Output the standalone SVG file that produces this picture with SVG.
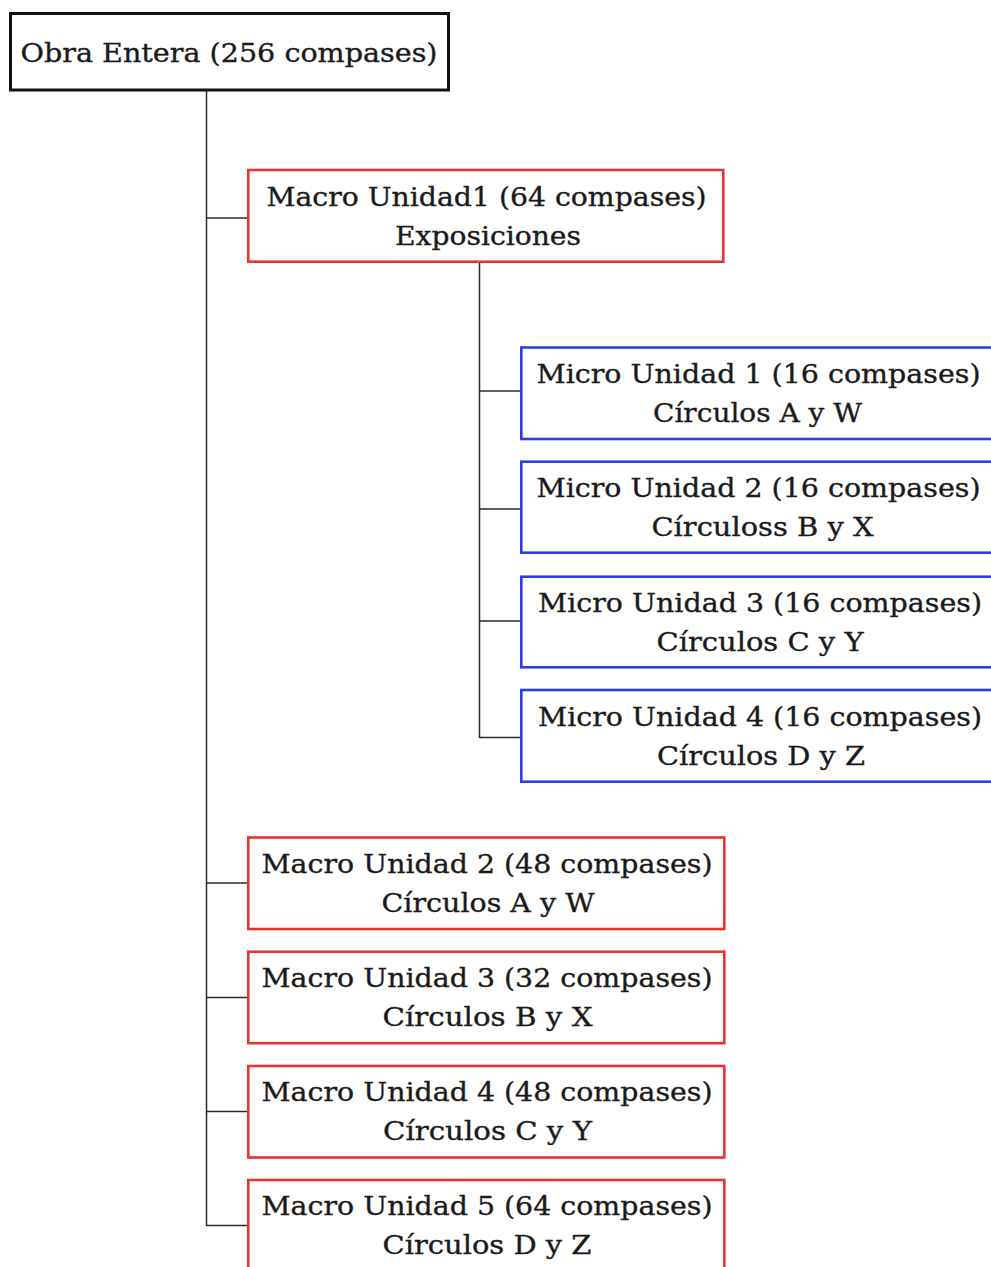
<svg xmlns="http://www.w3.org/2000/svg" width="991" height="1267" viewBox="0 0 991 1267">
<style>
  .bg { fill: #ffffff; }
  .box { fill: #ffffff; }
  .root { stroke: #111111; stroke-width: 3; }
  .macro { stroke: #e8352c; stroke-width: 2.6; }
  .micro { stroke: #2b3fe0; stroke-width: 2.6; }
  .conn { fill: none; stroke: #2a2a2a; stroke-width: 1.5; }
  text { font-family: "DejaVu Serif", "Liberation Serif", serif; font-size: 26px; fill: #1a1a1a; stroke: #1a1a1a; stroke-width: 0.35; text-anchor: middle; }
</style>
<rect class="bg" x="0" y="0" width="991" height="1267"/>
<g id="connectors">
  <path class="conn" d="M206.5 91 V1226"/>
  <path class="conn" d="M206.5 218 H248"/>
  <path class="conn" d="M206.5 883 H248"/>
  <path class="conn" d="M206.5 997.5 H248"/>
  <path class="conn" d="M206.5 1111.5 H248"/>
  <path class="conn" d="M206.5 1225.5 H248"/>
  <path class="conn" d="M479.5 262 V738"/>
  <path class="conn" d="M479.5 391 H521"/>
  <path class="conn" d="M479.5 509 H521"/>
  <path class="conn" d="M479.5 621 H521"/>
  <path class="conn" d="M479.5 737.5 H521"/>
</g>
<g id="obra">
  <rect class="box root" x="10.5" y="13.5" width="438" height="76.5"/>
  <text x="229" y="61.5" textLength="417" lengthAdjust="spacingAndGlyphs">Obra Entera (256 compases)</text>
</g>
<g id="macro1">
  <rect class="box macro" x="248.3" y="170" width="475" height="91.7"/>
  <text x="486.5" y="205.5" textLength="440" lengthAdjust="spacingAndGlyphs">Macro Unidad1 (64 compases)</text>
  <text x="488" y="244.5" textLength="186" lengthAdjust="spacingAndGlyphs">Exposiciones</text>
</g>
<g id="micro1">
  <rect class="box micro" x="521.3" y="347.5" width="475" height="91.5"/>
  <text x="758.5" y="383" textLength="444" lengthAdjust="spacingAndGlyphs">Micro Unidad 1 (16 compases)</text>
  <text x="757.5" y="422" textLength="209" lengthAdjust="spacingAndGlyphs">Círculos A y W</text>
</g>
<g id="micro2">
  <rect class="box micro" x="521.3" y="461.7" width="475" height="91"/>
  <text x="758.5" y="497" textLength="444" lengthAdjust="spacingAndGlyphs">Micro Unidad 2 (16 compases)</text>
  <text x="762.5" y="536" textLength="222" lengthAdjust="spacingAndGlyphs">Círculoss B y X</text>
</g>
<g id="micro3">
  <rect class="box micro" x="521.3" y="576.7" width="475" height="90.6"/>
  <text x="760" y="611.5" textLength="444" lengthAdjust="spacingAndGlyphs">Micro Unidad 3 (16 compases)</text>
  <text x="760" y="650.5" textLength="207" lengthAdjust="spacingAndGlyphs">Círculos C y Y</text>
</g>
<g id="micro4">
  <rect class="box micro" x="521.3" y="690" width="475" height="91.7"/>
  <text x="760" y="725.5" textLength="444" lengthAdjust="spacingAndGlyphs">Micro Unidad 4 (16 compases)</text>
  <text x="761" y="764.5" textLength="208" lengthAdjust="spacingAndGlyphs">Círculos D y Z</text>
</g>
<g id="macro2">
  <rect class="box macro" x="248.3" y="837.5" width="476" height="91.5"/>
  <text x="487" y="872.5" textLength="451" lengthAdjust="spacingAndGlyphs">Macro Unidad 2 (48 compases)</text>
  <text x="488" y="911.5" textLength="213" lengthAdjust="spacingAndGlyphs">Círculos A y W</text>
</g>
<g id="macro3">
  <rect class="box macro" x="248.3" y="951.7" width="476" height="91.5"/>
  <text x="487" y="986.5" textLength="451" lengthAdjust="spacingAndGlyphs">Macro Unidad 3 (32 compases)</text>
  <text x="487.5" y="1025.5" textLength="210" lengthAdjust="spacingAndGlyphs">Círculos B y X</text>
</g>
<g id="macro4">
  <rect class="box macro" x="248.3" y="1066" width="476" height="91.5"/>
  <text x="487" y="1101" textLength="451" lengthAdjust="spacingAndGlyphs">Macro Unidad 4 (48 compases)</text>
  <text x="487.5" y="1140" textLength="209" lengthAdjust="spacingAndGlyphs">Círculos C y Y</text>
</g>
<g id="macro5">
  <rect class="box macro" x="248.3" y="1180" width="476" height="91.5"/>
  <text x="487" y="1215" textLength="451" lengthAdjust="spacingAndGlyphs">Macro Unidad 5 (64 compases)</text>
  <text x="487" y="1254" textLength="209" lengthAdjust="spacingAndGlyphs">Círculos D y Z</text>
</g>
</svg>
